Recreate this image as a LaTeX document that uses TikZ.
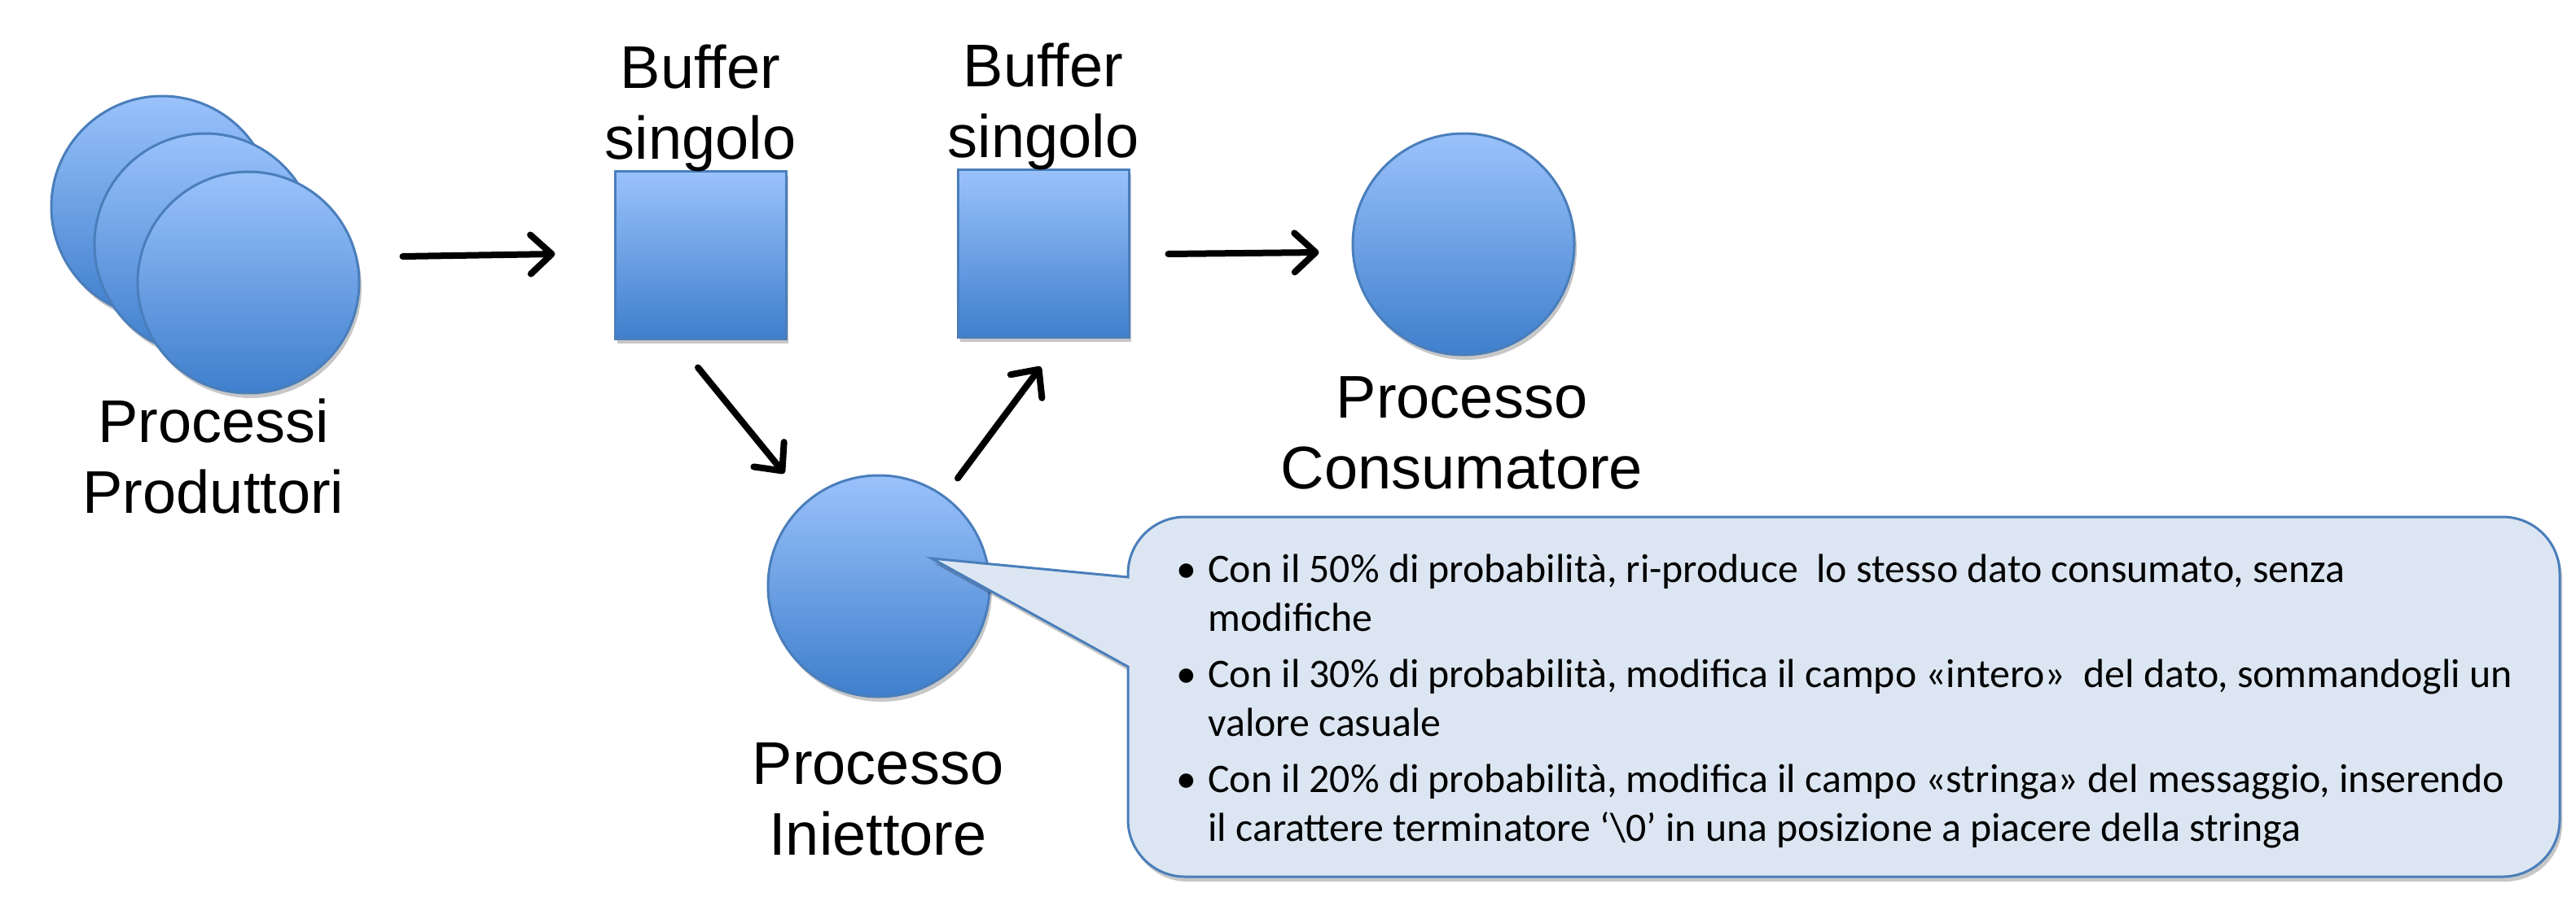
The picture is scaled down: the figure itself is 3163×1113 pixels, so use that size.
\documentclass[tikz,border=0pt]{standalone}
\usepackage{fontspec}
\setmainfont{Liberation Sans}
\newfontfamily\calfont{Carlito}
\usetikzlibrary{arrows.meta,shadows,calc}
\definecolor{lb}{HTML}{9AC2FB}
\definecolor{db}{HTML}{3F7FCD}
\definecolor{edgeblue}{HTML}{4A7EBB}
\definecolor{callfill}{HTML}{DCE6F2}
\newcommand{\cbul}{\makebox[19.5pt][l]{•}}
\newcommand{\cind}{\hspace*{19.5pt}}
\begin{document}
\begin{tikzpicture}[x=0.5pt,y=-0.5pt,
  softshadow/.style={drop shadow={shadow xshift=1.5pt,shadow yshift=-3pt,opacity=0.22,fill=black}},
  proc/.style={circle, draw=edgeblue, line width=1.5pt, top color=lb, bottom color=db,
    minimum size=136pt, inner sep=0pt, softshadow},
  bufbox/.style={rectangle, draw=edgeblue, line width=1.5pt, top color=lb, bottom color=db,
    minimum width=105pt, minimum height=103pt, inner sep=0pt, softshadow},
  lbl/.style={font=\fontsize{37}{43.5}\selectfont, align=center, inner sep=0pt},
  arr/.style={line width=4pt, line cap=round,
    -{Straight Barb[length=13pt,width=24pt,round]}},
  callout/.style={draw=edgeblue, line width=1.5pt, fill=callfill, softshadow},
  ctext/.style={font=\calfont\fontsize{24.9}{30}\selectfont, align=left, inner sep=0pt}
]
\useasboundingbox (0,0) rectangle (3163,1113);

% producer processes
\node[proc] (p1) at (199,254) {};
\node[proc] (p2) at (252,300) {};
\node[proc] (p3) at (305,347) {};
\node[lbl, anchor=base] (lp) at (262,630) {Processi\\Produttori};

% buffers
\node[bufbox] (b1) at (860,313) {};
\node[bufbox] (b2) at (1281,311) {};
\node[lbl, anchor=base] (lb1) at (860,195) {Buffer\\singolo};
\node[lbl, anchor=base] (lb2) at (1281,193) {Buffer\\singolo};

% consumer
\node[proc] (pc) at (1797,300) {};
\node[lbl, anchor=base] (lc) at (1795,600) {Processo\\Consumatore};

% injector
\node[proc] (pi) at (1079,720) {};
\node[lbl, anchor=base] (li) at (1078,1050) {Processo\\Iniettore};

% connector end points
\coordinate (a1s) at ($(b1.west)+(-259,2)$);
\coordinate (a1e) at ($(b1.west)+(-72,-1)$);
\coordinate (a2s) at ($(b1.south)+(-3,34)$);
\coordinate (a2e) at ($(pi.north)+(-116,-1)$);
\coordinate (a3s) at ($(pi.north)+(97,5)$);
\coordinate (a3e) at ($(b2.south)+(-3,35)$);
\coordinate (a4s) at ($(b2.east)+(47,1)$);
\coordinate (a4e) at ($(pc.west)+(-40,10)$);

\draw[arr] (a1s) -- (a1e);
\draw[arr] (a2s) -- (a2e);
\draw[arr] (a3s) -- (a3e);
\draw[arr] (a4s) -- (a4e);

% callout
\coordinate (tip) at (1144,686);
\draw[callout] (1385,709) [rounded corners=35pt] -- (1385,635) -- (3143,635)
  -- (3143,1077) -- (1385,1077) -- (1385,900) [sharp corners] -- (1385,819) -- (tip) -- cycle;

\node[ctext, anchor=base west] (ct) at (1444,1033) {%
\cbul Con il 50\% di probabilità, ri-produce \ lo stesso dato consumato, senza\\
\cind modifiche\\[4.5pt]
\cbul Con il 30\% di probabilità, modifica il campo «intero» \ del dato, sommandogli un\\
\cind valore casuale\\[4.5pt]
\cbul Con il 20\% di probabilità, modifica il campo «stringa» del messaggio, inserendo\\
\cind il carattere terminatore ‘\textbackslash 0’ in una posizione a piacere della stringa};
\end{tikzpicture}
\end{document}
